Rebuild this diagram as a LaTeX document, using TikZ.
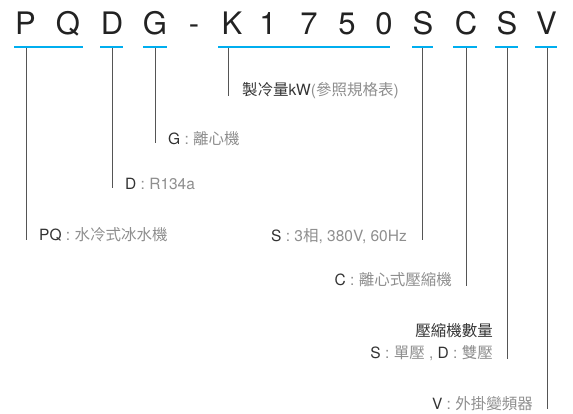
\documentclass[tikz,border=0pt]{standalone}
\usepackage{fontspec}
\setmainfont{TeX Gyre Heros}
\newfontfamily\cjk{Noto Sans CJK TC}
\definecolor{dk}{HTML}{333333}
\definecolor{lt}{HTML}{8E8E8E}
\definecolor{bl}{HTML}{00AEEF}
\definecolor{ln}{HTML}{555555}
\definecolor{cd}{HTML}{222222}
\begin{document}
\begin{tikzpicture}[x=1pt,y=-1pt,
  code/.style={font=\fontsize{31}{31}\selectfont, text=cd, anchor=base, inner sep=0pt},
  bar/.style={draw=bl, line width=2.5pt},
  lead/.style={draw=ln, line width=0.9pt},
  lbl/.style={font=\fontsize{15.5}{18}\selectfont, text=lt, inner sep=0pt},
  lblw/.style={lbl, anchor=west},
  lble/.style={lbl, anchor=east},
]
\useasboundingbox (0,0) rectangle (573,414);

% code letters
\foreach \x/\t/\n in {25.5/P/p, 68/Q/q, 112/D/d, 155/G/g, 194/-/h, 232/K/k, 268/1/a, 309/7/b, 347/5/c, 384/0/z, 423/S/s, 466/C/cc, 507/S/ss, 546.5/V/v}
  \node[code] (c\n) at (\x,35) {\t};

% blue bars
\draw[bar] (14,47) -- (83,47);
\draw[bar] (100,47) -- (123,47);
\draw[bar] (143,47) -- (167,47);
\draw[bar] (218,47) -- (390,47);
\draw[bar] (412,47) -- (433,47);
\draw[bar] (453,47) -- (477,47);
\draw[bar] (495,47) -- (518,47);
\draw[bar] (535,47) -- (557,47);

% top ends of leaders
\coordinate (tPQ) at (26,48);
\coordinate (tD) at (112,48);
\coordinate (tG) at (155,48);
\coordinate (tK) at (228,48);
\coordinate (tS) at (422,48);
\coordinate (tC) at (466,48);
\coordinate (tN) at (507,48);
\coordinate (tV) at (547,48);

% bottom ends of leaders
\coordinate (ePQ) at (26,240);
\coordinate (eD) at (112,188);
\coordinate (eG) at (155,143);
\coordinate (eK) at (228,96);
\coordinate (eS) at (422,240);
\coordinate (eC) at (466,286);
\coordinate (eN) at (507,359);
\coordinate (eV) at (547,409);

% labels
\node[lblw] (lK) at (242,91) {\textcolor{dk}{{\cjk 製冷量}kW}({\cjk 參照規格表})};
\node[lblw] (lG) at (168,139) {\textcolor{dk}{G} : {\cjk 離心機}};
\node[lblw] (lD) at (125,184) {\textcolor{dk}{D} : R134a};
\node[lblw] (lPQ) at (39,235) {\textcolor{dk}{PQ} : {\cjk 水冷式冰水機}};
\node[lble] (lS) at (407,236) {\textcolor{dk}{S} : 3{\cjk 相}, 380V, 60Hz};
\node[lble] (lC) at (452,280) {\textcolor{dk}{C} : {\cjk 離心式壓縮機}};
\node[lble] (lN1) at (493,331) {\textcolor{dk}{\cjk 壓縮機數量}};
\node[lble] (lN2) at (493,353) {\textcolor{dk}{S} : {\cjk 單壓} , \textcolor{dk}{D} : {\cjk 雙壓}};
\node[lble] (lV) at (533,404) {\textcolor{dk}{V} : {\cjk 外掛變頻器}};

% leaders
\draw[lead] (tPQ) -- (ePQ);
\draw[lead] (tD) -- (eD);
\draw[lead] (tG) -- (eG);
\draw[lead] (tK) -- (eK);
\draw[lead] (tS) -- (eS);
\draw[lead] (tC) -- (eC);
\draw[lead] (tN) -- (eN);
\draw[lead] (tV) -- (eV);
\end{tikzpicture}
\end{document}
